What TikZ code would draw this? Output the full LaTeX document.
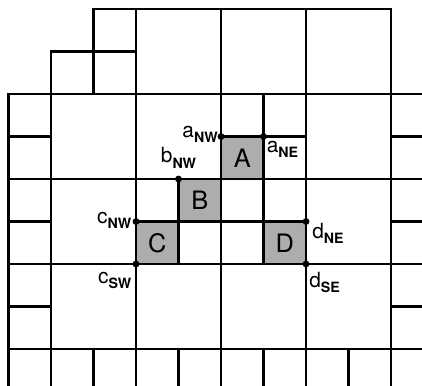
\documentclass[tikz,border=0pt]{standalone}
\usepackage{fontspec}
\setmainfont{TeX Gyre Heros}
\tikzset{
  gridline/.style={line width=1.6pt, line cap=rect},
  shade/.style={fill=black!32},
  dotpt/.style={circle, fill=black, inner sep=0pt, minimum size=4.6pt},
  cellletter/.style={font=\fontsize{17}{17}\selectfont, inner sep=0pt},
  lbl/.style={font=\fontsize{14}{14}\selectfont, inner sep=0pt}
}
\newcommand{\sbx}[2]{#1\raisebox{-3.6pt}{\fontsize{9.5}{9.5}\selectfont\bfseries #2}}
\begin{document}
\begin{tikzpicture}
\useasboundingbox (0,0) rectangle (9.929,-9.082);
\foreach \i in {0,...,9}{
  \foreach \j in {0,...,8}{
    \coordinate (g-\i-\j) at ({0.2+\i},{-0.212-\j});
  }
  \coordinate (B-\i) at ({0.2+\i},-9.2);
}
\foreach \j in {0,...,8}{
  \coordinate (R-\j) at (10.05,{-0.212-\j});
}
% shaded cells
\fill[shade] (g-5-3) rectangle (g-6-4);
\fill[shade] (g-4-4) rectangle (g-5-5);
\fill[shade] (g-3-5) rectangle (g-4-6);
\fill[shade] (g-6-5) rectangle (g-7-6);
% horizontal lines
\draw[gridline] (g-2-2) -- (g-2-0) -- (g-9-0) -- (B-9);
\draw[gridline] (g-1-1) -- (g-3-1);
\draw[gridline] (g-0-2) -- (R-2);
\draw[gridline] (g-0-3) -- (g-1-3);
\draw[gridline] (g-5-3) -- (g-7-3);
\draw[gridline] (g-9-3) -- (R-3);
\draw[gridline] (g-0-4) -- (R-4);
\draw[gridline] (g-0-5) -- (g-1-5);
\draw[gridline] (g-3-5) -- (g-7-5);
\draw[gridline] (g-9-5) -- (R-5);
\draw[gridline] (g-0-6) -- (R-6);
\draw[gridline] (g-0-7) -- (g-1-7);
\draw[gridline] (g-9-7) -- (R-7);
\draw[gridline] (g-0-8) -- (R-8);
% vertical lines
\draw[gridline] (g-0-2) -- (B-0);
\draw[gridline] (g-1-1) -- (B-1);
\draw[gridline] (g-2-8) -- (B-2);
\draw[gridline] (g-3-0) -- (B-3);
\draw[gridline] (g-4-4) -- (g-4-6);
\draw[gridline] (g-4-8) -- (B-4);
\draw[gridline] (g-5-0) -- (B-5);
\draw[gridline] (g-6-2) -- (g-6-6);
\draw[gridline] (g-6-8) -- (B-6);
\draw[gridline] (g-7-0) -- (B-7);
\draw[gridline] (g-8-8) -- (B-8);
% cell letters
\node[cellletter] (A) at (5.7,-3.712) {A};
\node[cellletter] (Bc) at (4.7,-4.712) {B};
\node[cellletter] (C) at (3.7,-5.712) {C};
\node[cellletter] (D) at (6.7,-5.712) {D};
% corner dots
\node[dotpt] (aNW) at (g-5-3) {};
\node[dotpt] (aNE) at (g-6-3) {};
\node[dotpt] (bNW) at (g-4-4) {};
\node[dotpt] (cNW) at (g-3-5) {};
\node[dotpt] (cSW) at (g-3-6) {};
\node[dotpt] (dNE) at (g-7-5) {};
\node[dotpt] (dSE) at (g-7-6) {};
% labels
\node[lbl, anchor=base east] (laNW) at ([xshift=-2pt,yshift=-0.5pt]aNW.center) {\sbx{a}{NW}};
\node[lbl, anchor=north west] (laNE) at ([xshift=2pt,yshift=-3pt]aNE.center) {\sbx{a}{NE}};
\node[lbl, anchor=south] (lbNW) at ([yshift=7pt]bNW.center) {\sbx{b}{NW}};
\node[lbl, anchor=base east] (lcNW) at ([xshift=-3pt,yshift=-1pt]cNW.center) {\sbx{c}{NW}};
\node[lbl, anchor=north east] (lcSW) at ([xshift=-3pt,yshift=-5pt]cSW.center) {\sbx{c}{SW}};
\node[lbl, anchor=north west] (ldNE) at ([xshift=4pt,yshift=-1pt]dNE.center) {\sbx{d}{NE}};
\node[lbl, anchor=north west] (ldSE) at ([xshift=2pt,yshift=-5pt]dSE.center) {\sbx{d}{SE}};
\end{tikzpicture}
\end{document}
